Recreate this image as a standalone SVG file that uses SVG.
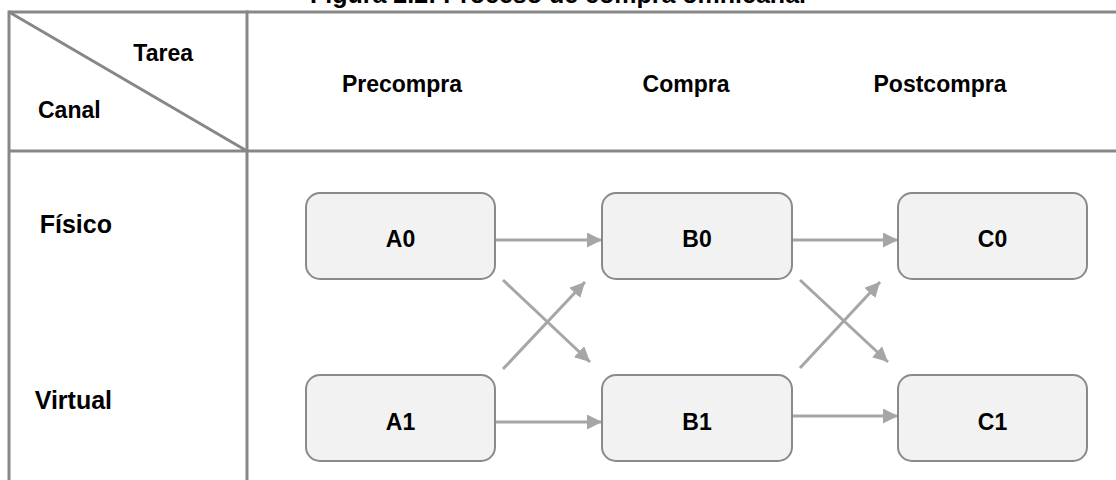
<svg xmlns="http://www.w3.org/2000/svg" width="1116" height="480" viewBox="0 0 1116 480">
  <style>
    .t { font-family: "Liberation Sans", Arial, sans-serif; font-weight: bold; fill: #000; }
    .hd { font-size: 23px; }
    .lbl { font-size: 23px; text-anchor: middle; }
    .grid { stroke: #878787; stroke-width: 3; fill: none; }
    .box { fill: #f2f2f2; stroke: #8a8a8a; stroke-width: 2; }
    .edge { stroke: #a6a6a6; stroke-width: 3; fill: none; marker-end: url(#head); }
  </style>
  <defs>
    <marker id="head" markerUnits="userSpaceOnUse" markerWidth="16" markerHeight="16" refX="15" refY="7.5" orient="auto">
      <path d="M0,0 L15,7.5 L0,15 Z" fill="#a6a6a6"/>
    </marker>
  </defs>

  <!-- caption, cut by the top edge -->
  <text class="t" x="558" y="3" font-size="25" text-anchor="middle">Figura 2.2: Proceso de compra omnicanal</text>

  <!-- table frame -->
  <g id="frame">
    <line class="grid" x1="9" y1="12" x2="1116" y2="12"/>
    <line class="grid" x1="9" y1="151" x2="1116" y2="151"/>
    <line class="grid" x1="9" y1="10.5" x2="9" y2="480"/>
    <line class="grid" x1="247" y1="10.5" x2="247" y2="480"/>
    <line class="grid" x1="9" y1="12" x2="247" y2="151"/>
  </g>

  <!-- header texts -->
  <g id="headers">
    <text class="t hd" x="193" y="61" text-anchor="end">Tarea</text>
    <text class="t hd" x="38" y="118">Canal</text>
    <text class="t hd" x="402" y="92" text-anchor="middle">Precompra</text>
    <text class="t hd" x="686" y="92" text-anchor="middle">Compra</text>
    <text class="t hd" x="940" y="92" text-anchor="middle">Postcompra</text>
    <text class="t" x="112" y="233" font-size="25" text-anchor="end">Físico</text>
    <text class="t" x="112" y="409" font-size="25" text-anchor="end">Virtual</text>
  </g>

  <!-- connectors -->
  <g id="connectors">
    <line class="edge" x1="495" y1="240" x2="602" y2="240"/>
    <line class="edge" x1="495" y1="422" x2="602" y2="422"/>
    <line class="edge" x1="503" y1="280" x2="590" y2="362"/>
    <line class="edge" x1="503" y1="369" x2="585" y2="282"/>
    <line class="edge" x1="792" y1="240" x2="898" y2="240"/>
    <line class="edge" x1="792" y1="416" x2="898" y2="416"/>
    <line class="edge" x1="800" y1="280" x2="888" y2="362"/>
    <line class="edge" x1="800" y1="368" x2="880" y2="282"/>
  </g>

  <!-- process nodes -->
  <g id="A0">
    <rect class="box" x="306" y="193" width="189" height="86" rx="14"/>
    <text class="t lbl" x="400.5" y="247">A0</text>
  </g>
  <g id="B0">
    <rect class="box" x="602" y="193" width="190" height="86" rx="14"/>
    <text class="t lbl" x="697" y="247">B0</text>
  </g>
  <g id="C0">
    <rect class="box" x="898" y="193" width="189" height="86" rx="14"/>
    <text class="t lbl" x="992.5" y="247">C0</text>
  </g>
  <g id="A1">
    <rect class="box" x="306" y="375" width="189" height="86" rx="14"/>
    <text class="t lbl" x="400.5" y="430">A1</text>
  </g>
  <g id="B1">
    <rect class="box" x="602" y="375" width="190" height="86" rx="14"/>
    <text class="t lbl" x="697" y="430">B1</text>
  </g>
  <g id="C1">
    <rect class="box" x="898" y="375" width="189" height="86" rx="14"/>
    <text class="t lbl" x="992.5" y="430">C1</text>
  </g>
</svg>
